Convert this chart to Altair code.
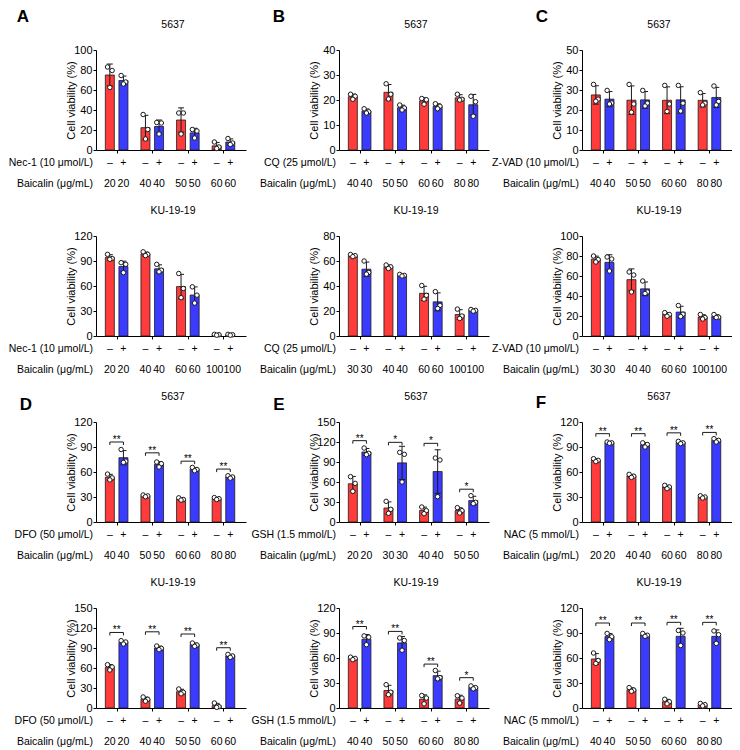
import altair as alt
import pandas as pd

FONT = "Liberation Sans"
RED = "#FF3B3B"
BLUE = "#3B3BFF"
INK = "#1a1a1a"
W, H = 150, 100
XMAX = 10.3
P0, GSTEP = 0.65, 2.62
JIT = [-0.17, 0.17, 0.0]
YTITLE = "Cell viability (%)"
BAI = "Baicalin (μg/mL)"

# ---------------- data (three replicates per bar) ----------------
A1_conc = [20, 40, 50, 60]
A1_minus = [[83, 79.5, 62.5], [35.5, 20.5, 11], [37, 37, 16], [8, 3, 1.5]]
A1_plus = [[74.5, 68, 66], [27.5, 27, 16], [20.5, 19, 12], [11.5, 7, 5.5]]

A2_conc = [20, 40, 60, 100]
A2_minus = [[98, 93, 92], [101, 98, 96.5], [75, 57, 46], [2, 1.5, 1]]
A2_plus = [[88, 86, 76], [86, 79, 77], [59, 49, 39.5], [2, 1.5, 1]]

B1_conc = [40, 50, 60, 80]
B1_minus = [[22.3, 21.5, 20.3], [26.5, 22.3, 20.4], [20.6, 20.1, 18.3], [22.3, 20.3, 20]]
B1_plus = [[16.5, 15.3, 14.8], [18, 16.8, 16], [18.5, 17.5, 16.5], [21.5, 19.3, 13.5]]

B2_conc = [30, 40, 60, 100]
B2_minus = [[65.2, 64.3, 63.5], [56.8, 55.3, 54], [40.4, 32.5, 29.5], [21.5, 16, 14]]
B2_plus = [[60, 50.8, 49.5], [49.3, 48.5, 48], [35.5, 24.5, 22], [21.2, 20.5, 19.9]]

C1_conc = [40, 50, 60, 80]
C1_minus = [[32.8, 25.4, 24.4], [32.8, 23, 18.9], [32.3, 23, 19.3], [28.7, 23.4, 22.5]]
C1_plus = [[29.8, 23.5, 23], [29.8, 23.4, 22], [32.3, 23.4, 19.5], [32, 24.3, 22.5]]

C2_conc = [30, 40, 60, 100]
C2_minus = [[80, 76.5, 74], [64, 61, 44], [23.4, 21.5, 19.8], [21.5, 18.5, 17]]
C2_plus = [[79, 77, 65], [55, 44, 42.5], [30.5, 21.8, 19.5], [21.5, 18.8, 18.5]]

D1_conc = [40, 50, 60, 80]
D1_minus = [[57.5, 53, 50.5], [32.4, 31.3, 30.3], [29, 27, 26.3], [29.3, 28, 27]]
D1_plus = [[87, 73, 71.5], [72, 70, 66], [65.5, 63, 61.5], [55.5, 54, 52.6]]
D1_sig = [96, 83, 73, 63.5]
D1_star = ["**", "**", "**", "**"]

D2_conc = [20, 40, 50, 60]
D2_minus = [[65, 61.5, 57], [16.5, 13, 10.2], [28.5, 23.5, 21.3], [7.5, 2, 1]]
D2_plus = [[101, 99, 96], [93, 89.5, 87.5], [97.5, 94.5, 92.5], [80.5, 78, 76]]
D2_sig = [113.3, 114.3, 111, 90.4]
D2_star = ["**", "**", "**", "**"]

E1_conc = [20, 30, 40, 50]
E1_minus = [[68, 58, 46], [31, 19, 13], [22.5, 17, 12.5], [21.5, 17, 13.5]]
E1_plus = [[111, 103, 101], [104.5, 101.5, 60], [96, 93, 38], [39.5, 29.5, 27.5]]
E1_sig = [122, 119.5, 118, 49.2]
E1_star = ["**", "*", "*", "*"]

E2_conc = [40, 50, 60, 80]
E2_minus = [[61, 59.5, 58], [28, 19, 16], [15, 12, 5], [14.7, 11.9, 5.9]]
E2_plus = [[86.5, 85, 76], [84, 81, 69.3], [45, 36.5, 35], [26.5, 24.4, 23]]
E2_sig = [97.8, 91.9, 52.7, 36.4]
E2_star = ["**", "**", "**", "*"]

F1_conc = [20, 40, 60, 80]
F1_minus = [[76, 74, 72.5], [57.2, 55, 53.5], [44, 42, 40], [31.5, 30, 28.8]]
F1_plus = [[96, 95, 94.5], [95, 93, 90], [96.8, 95, 94], [100, 98, 96]]
F1_sig = [106, 106, 107, 107.5]
F1_star = ["**", "**", "**", "**"]

F2_conc = [40, 50, 60, 80]
F2_minus = [[66, 57, 53.5], [24.5, 21.5, 20], [10.5, 7.5, 5], [5.5, 4, 2.5]]
F2_plus = [[89.5, 85.5, 82], [89.5, 87.3, 86], [93, 90, 75], [92.5, 88, 77.5]]
F2_sig = [102, 102, 102.8, 102.8]
F2_star = ["**", "**", "**", "**"]


def one_text(text, x, y, **kw):
    return alt.Chart(alt.Data(values=[{"k": 0}])).mark_text(text=text, **kw).encode(
        x=alt.value(x), y=alt.value(y))


def panel(cell, treat, conc, minus, plus, ymax, ystep, sig=None, star=None,
          letter=None, lxy=(0, 0)):
    rows, labels = [], []
    for g in range(4):
        for t, reps in enumerate([minus[g], plus[g]]):
            pos = P0 + g * GSTEP + t
            for r, v in enumerate(reps):
                rows.append(dict(pos=pos, px=pos + JIT[r], v=v, t=t))
            c = str(conc[g])
            nudge = (-2 if t == 0 else 2) if len(c) > 2 else 0
            labels.append(dict(pos=pos, sign="–" if t == 0 else "+", conc=c, t=t, nudge=nudge))
    df = pd.DataFrame(rows)
    lab = pd.DataFrame(labels)
    xs = alt.Scale(domain=[0, XMAX], nice=False, zero=False)
    ys = alt.Scale(domain=[0, ymax], nice=False)
    ax_x = alt.Axis(values=[P0 + 0.5 + g * GSTEP for g in range(4)],
                    labels=False, title=None, tickSize=3, grid=False)
    ax_y = alt.Axis(values=list(range(0, ymax + 1, ystep)), title=YTITLE,
                    tickSize=3, labelPadding=1, grid=False,
                    titleX=-25, titleY=H / 2, titleAngle=270,
                    titleAlign="center", titleBaseline="middle")

    def X(f):
        return alt.X(f, scale=xs, axis=ax_x)

    def Y(f):
        return alt.Y(f, scale=ys, axis=ax_y)

    base = alt.Chart(df)
    bars = base.mark_bar(orient="vertical", size=9, stroke=INK, strokeWidth=0.8).encode(
        x=X("pos:Q"), y=Y("mean(v):Q"),
        color=alt.Color("t:N", scale=alt.Scale(domain=[0, 1], range=[RED, BLUE]), legend=None),
    )
    stats = base.transform_aggregate(
        m="mean(v)", s="stdev(v)", groupby=["pos"]
    ).transform_calculate(lo="max(0, datum.m - datum.s)", hi="datum.m + datum.s")
    err = stats.mark_rule(color=INK, strokeWidth=1).encode(
        x=X("pos:Q"), y=Y("lo:Q"), y2="hi:Q")
    cap_hi = stats.mark_rule(color=INK, strokeWidth=1, xOffset=-3, x2Offset=3).encode(
        x=X("pos:Q"), x2="pos:Q", y=Y("hi:Q"))
    cap_lo = stats.mark_rule(color=INK, strokeWidth=1, xOffset=-3, x2Offset=3).encode(
        x=X("pos:Q"), x2="pos:Q", y=Y("lo:Q"))
    pts = base.mark_point(shape="circle", filled=True, fill="white", stroke=INK,
                          strokeWidth=1, size=20, opacity=1).encode(
        x=X("px:Q"), y=Y("v:Q"))

    tb = alt.Chart(lab)
    signs = tb.mark_text(fontSize=10.5, baseline="middle").encode(
        x=X("pos:Q"), y=alt.value(H + 13), text="sign:N")
    concs = tb.transform_filter("datum.nudge == 0").mark_text(
        fontSize=10.5, baseline="middle").encode(
        x=X("pos:Q"), y=alt.value(H + 34), text="conc:N")
    concs_l = tb.transform_filter("datum.nudge < 0").mark_text(
        fontSize=10.5, baseline="middle", dx=-2).encode(
        x=X("pos:Q"), y=alt.value(H + 34), text="conc:N")
    concs_r = tb.transform_filter("datum.nudge > 0").mark_text(
        fontSize=10.5, baseline="middle", dx=2).encode(
        x=X("pos:Q"), y=alt.value(H + 34), text="conc:N")
    r1 = one_text(treat, -3, H + 13, align="right", baseline="middle", fontSize=10.5)
    r2 = one_text(BAI, -3, H + 34, align="right", baseline="middle", fontSize=10.5)
    ttl = one_text(cell, W / 2 + 2, -25, align="center", baseline="middle", fontSize=10.5)
    layers = [bars, err, cap_hi, cap_lo, pts, signs, concs, concs_l, concs_r, r1, r2, ttl]
    if letter:
        layers.append(one_text(letter, lxy[0], lxy[1], align="center", baseline="middle",
                               fontSize=17, fontWeight="bold"))
    if sig:
        sd = pd.DataFrame(dict(
            x1=[P0 + g * GSTEP for g in range(4)],
            x2=[P0 + g * GSTEP + 1 for g in range(4)],
            xm=[P0 + g * GSTEP + 0.5 for g in range(4)],
            y=sig, txt=star))
        sc = alt.Chart(sd)
        layers += [
            sc.mark_rule(color=INK, strokeWidth=1).encode(
                x=X("x1:Q"), x2="x2:Q", y=Y("y:Q")),
            sc.mark_rule(color=INK, strokeWidth=1, y2Offset=3).encode(
                x=X("x1:Q"), y=Y("y:Q"), y2="y:Q"),
            sc.mark_rule(color=INK, strokeWidth=1, y2Offset=3).encode(
                x=X("x2:Q"), y=Y("y:Q"), y2="y:Q"),
            sc.mark_text(fontSize=10, baseline="alphabetic", dy=1).encode(
                x=X("xm:Q"), y=Y("y:Q"), text="txt:N"),
        ]
    return alt.layer(*layers).properties(width=W, height=H)


panels = [
    panel("5637", "Nec-1 (10 μmol/L)", A1_conc, A1_minus, A1_plus, 100, 20, letter="A", lxy=(-73, -33)),
    panel("5637", "CQ (25 μmol/L)", B1_conc, B1_minus, B1_plus, 40, 10, letter="B", lxy=(-60, -33)),
    panel("5637", "Z-VAD (10 μmol/L)", C1_conc, C1_minus, C1_plus, 50, 10, letter="C", lxy=(-40, -33)),
    panel("KU-19-19", "Nec-1 (10 μmol/L)", A2_conc, A2_minus, A2_plus, 120, 30),
    panel("KU-19-19", "CQ (25 μmol/L)", B2_conc, B2_minus, B2_plus, 80, 20),
    panel("KU-19-19", "Z-VAD (10 μmol/L)", C2_conc, C2_minus, C2_plus, 100, 20),
    panel("5637", "DFO (50 μmol/L)", D1_conc, D1_minus, D1_plus, 120, 30, D1_sig, D1_star, "D", (-70, -17)),
    panel("5637", "GSH (1.5 mmol/L)", E1_conc, E1_minus, E1_plus, 150, 30, E1_sig, E1_star, "E", (-60, -17)),
    panel("5637", "NAC (5 mmol/L)", F1_conc, F1_minus, F1_plus, 120, 30, F1_sig, F1_star, "F", (-41, -19)),
    panel("KU-19-19", "DFO (50 μmol/L)", D2_conc, D2_minus, D2_plus, 150, 30, D2_sig, D2_star),
    panel("KU-19-19", "GSH (1.5 mmol/L)", E2_conc, E2_minus, E2_plus, 120, 30, E2_sig, E2_star),
    panel("KU-19-19", "NAC (5 mmol/L)", F2_conc, F2_minus, F2_plus, 120, 30, F2_sig, F2_star),
]

chart = alt.concat(
    *panels, columns=3, spacing={"row": 86, "column": 93}, bounds="flush"
).properties(padding=0, background="white").configure_view(stroke=None).configure_axis(
    labelFont=FONT, titleFont=FONT, labelFontSize=11, titleFontSize=11,
    titleFontWeight="normal", domainColor="black", tickColor="black",
    labelColor="black", titleColor="black", domainWidth=1, tickWidth=1,
).configure_text(font=FONT, color="black")

chart.save("out.html", embed_options={"renderer": "svg", "actions": False})
